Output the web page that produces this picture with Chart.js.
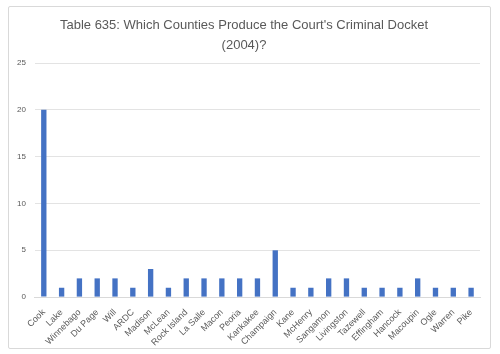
<!DOCTYPE html>
<html><head><meta charset="utf-8">
<script src="https://cdn.jsdelivr.net/npm/chart.js@4"></script>
<style>
html,body{margin:0;padding:0;background:#fff;}
#frame{position:absolute;left:8px;top:6px;width:481px;height:341px;border:1px solid #d9d9d9;border-radius:2px;}
#wrap{position:absolute;left:0;top:0;width:500px;height:354px;}
</style></head><body>
<div id="frame"></div>
<div id="wrap"><canvas id="c" width="500" height="354"></canvas></div>
<script>
const categories = ["Cook","Lake","Winnebago","Du Page","Will","ARDC","Madison","McLean","Rock Island","La Salle","Macon","Peoria","Kankakee","Champaign","Kane","McHenry","Sangamon","Livingston","Tazewell","Effingham","Hancock","Macoupin","Ogle","Warren","Pike"];
const values = [20,1,2,2,2,1,3,1,2,2,2,2,2,5,1,1,2,2,1,1,1,2,1,1,1];
const titleLines = ["Table 635: Which Counties Produce the Court's Criminal Docket","(2004)?"];
const yTicks = [0,5,10,15,20,25];

new Chart(document.getElementById('c'), {
  type: 'bar',
  data: { labels: categories, datasets: [{ data: values, backgroundColor: '#4472C4', barPercentage: 0.3, categoryPercentage: 1.0 }] },
  options: {
    responsive: false, animation: false,
    layout: { padding: { left: 8, right: 20, top: 12, bottom: 4 } },
    plugins: {
      legend: { display: false }, tooltip: { enabled: false },
      title: { display: true, text: titleLines, color: '#595959', font: { family: 'Liberation Sans', size: 13, weight: 'normal', lineHeight: 1.5 }, padding: { top: 4, bottom: 8 } }
    },
    scales: {
      y: { min: 0, max: 25, afterBuildTicks: s => { s.ticks = yTicks.map(v => ({value: v})); },
        ticks: { color: '#595959', font: { family: 'Liberation Sans', size: 8 }, padding: 9 },
        grid: { color: '#e3e3e3', drawTicks: false }, border: { display: false } },
      x: { grid: { display: false }, border: { color: '#d9d9d9' },
        ticks: { color: '#595959', font: { family: 'Liberation Sans', size: 9 }, minRotation: 45, maxRotation: 45, autoSkip: false, padding: 2 } }
    }
  }
});
</script></body></html>
